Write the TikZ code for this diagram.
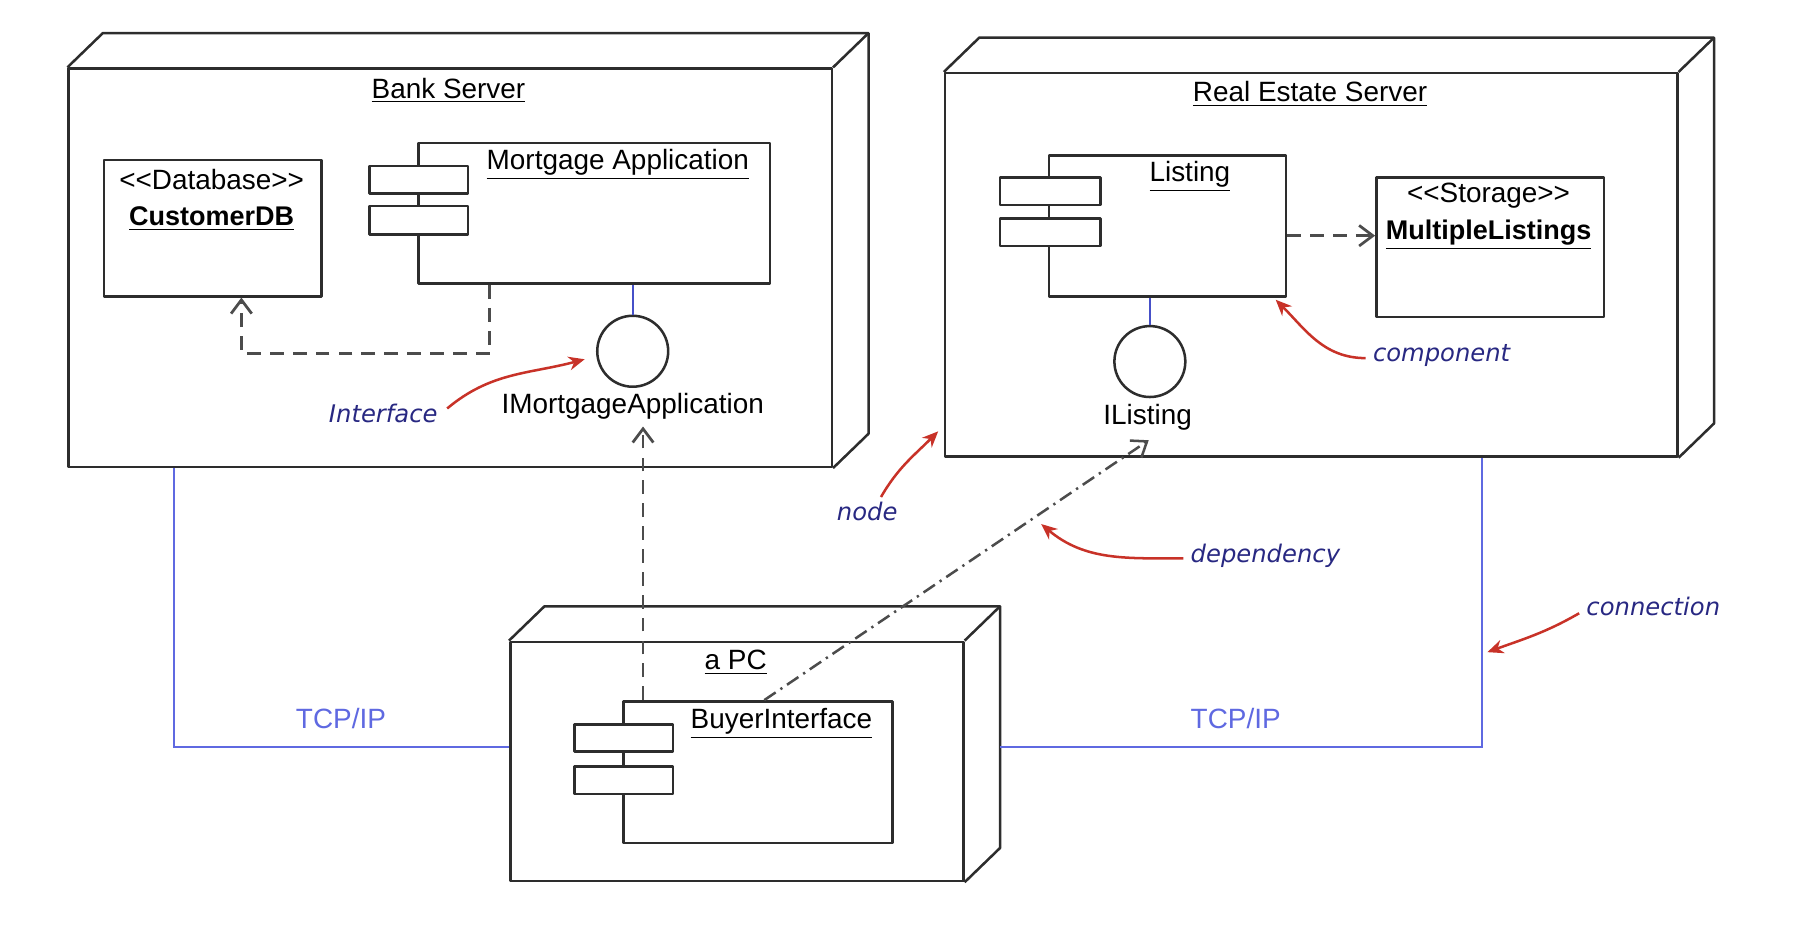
\documentclass[tikz,border=0pt]{standalone}
\usepackage{fontspec}
\setmainfont{Liberation Sans}
\newfontfamily\annotfont{DejaVu Sans}
\usetikzlibrary{arrows.meta}
\definecolor{navy}{RGB}{40,40,130}
\definecolor{annred}{RGB}{200,50,40}
\definecolor{connblue}{RGB}{95,105,225}
\definecolor{stubblue}{RGB}{70,80,200}
\definecolor{linegray}{RGB}{45,45,45}
\newcommand{\cubeback}[1]{%
  \draw[outline] (#1.north west) -- ++(31,-30) -- ([shift={(31,-30)}]#1.north east) -- ([shift={(31,-30)}]#1.south east) -- (#1.south east);
  \draw[outline] (#1.north east) -- ++(31,-30);}
\begin{document}
\begin{tikzpicture}[x=0.5pt,y=-0.5pt,
  outline/.style={draw=linegray,line width=1.1pt,line join=round},
  box/.style={outline,fill=white,inner sep=0pt},
  lbl/.style={font=\fontsize{12.2}{14}\selectfont,inner sep=0pt},
  boldlbl/.style={font=\fontsize{11.8}{14}\selectfont\bfseries,inner sep=0pt},
  ann/.style={font=\annotfont\itshape\fontsize{10.6}{13}\selectfont,text=navy,inner sep=0pt},
  annarrow/.style={draw=annred,line width=1.1pt,-{Stealth[length=7pt,width=6pt]}},
  dep/.style={draw=black!70,line width=1.2pt,dash pattern=on 6pt off 4pt,-{Straight Barb[length=6pt,width=9pt]}},
  depdot/.style={draw=black!70,line width=1.1pt,dash pattern=on 6pt off 2.5pt on 1pt off 2.5pt,-{Straight Barb[length=6pt,width=9pt]}},
  conn/.style={draw=connblue,line width=1pt},
  stub/.style={draw=stubblue,line width=1pt},
]
\useasboundingbox (0,0) rectangle (1568,830);

% ---------- Bank Server ----------
\node[box,minimum width=333.5pt,minimum height=174pt] (bank) at (393.5,234) {};
\cubeback{bank}
\node[lbl] (bankt) at (392,79) {\underline{Bank Server}};

\node[box,minimum width=95pt,minimum height=59.5pt] (cdb) at (186,199.5) {};
\node[lbl] (cdbst) at (185,157) {<\kern0pt<Database>\kern0pt>};
\node[boldlbl] (cdbn) at (185,191) {\underline{CustomerDB}};

\node[box,minimum width=153.5pt,minimum height=61.5pt] (mort) at (519.5,186.5) {};
\node[box,minimum width=43pt,minimum height=12pt] (mortp1) at (366,157) {};
\node[box,minimum width=43pt,minimum height=12.5pt] (mortp2) at (366,192.5) {};
\node[lbl] (mortt) at (540,144) {\underline{Mortgage Application}};

\node[box,circle,minimum size=31pt] (imc) at (553,307) {};
\draw[stub] (imc.north) -- (imc.north |- mort.south);
\node[lbl] (imlab) at (553,355) {IMortgageApplication};

\draw[dep] (428,0 |- mort.south) -- (428,309) -- (211,309) -- (211,0 |- cdb.south);

\node[ann] (annif) at (335,361) {Interface};
\draw[annarrow] (annif.east) ++(8,-4) to[out=40,in=195] (511,314);

% ---------- Real Estate Server ----------
\node[box,minimum width=320pt,minimum height=167.5pt] (res) at (1146,231.5) {};
\cubeback{res}
\node[lbl] (rest) at (1145,82) {\underline{Real Estate Server}};

\node[box,minimum width=103.5pt,minimum height=61.5pt] (lst) at (1020.5,197.5) {};
\node[box,minimum width=44pt,minimum height=12pt] (lstp1) at (918,167) {};
\node[box,minimum width=44pt,minimum height=12pt] (lstp2) at (918,203) {};
\node[lbl] (lstt) at (1040,154) {\underline{Listing}};

\node[box,minimum width=99.5pt,minimum height=61pt] (mls) at (1302.5,216) {};
\node[lbl] (mlsst) at (1301,171) {<\kern0pt<Storage>\kern0pt>};
\node[boldlbl] (mlsn) at (1301,205) {\underline{MultipleListings}};

\draw[dep] (lst.east |- 0,206) -- (mls.west |- 0,206);

\node[box,circle,minimum size=31pt] (ilc) at (1005,316) {};
\draw[stub] (ilc.north) -- (ilc.north |- lst.south);
\node[lbl] (illab) at (1003,365) {IListing};

\node[ann] (anncomp) at (1260,311) {component};
\draw[annarrow] (anncomp.west) ++(-6,2) to[out=180,in=-45] (1115,262);

% ---------- a PC ----------
\node[box,minimum width=198pt,minimum height=104.5pt] (pc) at (644,665.5) {};
\cubeback{pc}
\coordinate (pcback) at ([shift={(31,-30)}]pc.south east);
\node[lbl] (pct) at (643,579) {\underline{a PC}};

\node[box,minimum width=117.5pt,minimum height=62pt] (buy) at (662.5,675) {};
\node[box,minimum width=43pt,minimum height=12pt] (buyp1) at (545,645) {};
\node[box,minimum width=43pt,minimum height=12pt] (buyp2) at (545,682) {};
\node[lbl] (buyt) at (683,632) {\underline{BuyerInterface}};

% dependencies from BuyerInterface
\draw[dep] (562,0 |- buy.north) -- ([yshift=-3pt]562,0 |- imlab.south);
\coordinate (iltip) at ([xshift=0.5pt,yshift=-4pt]illab.south);
\draw[depdot] (668,0 |- buy.north) -- (iltip);

% ---------- connections ----------
\draw[conn] (152,0 |- bank.south) -- (152,653) -- (pc.west |- 0,653);
\node[lbl,text=connblue] (tcp1) at (298,628) {TCP/IP};
\draw[conn] (pcback |- 0,653) -- (1295,653) -- (1295,0 |- res.south);
\node[lbl,text=connblue] (tcp2) at (1080,628) {TCP/IP};

% ---------- annotations ----------
\node[ann] (annnode) at (758,447) {node};
\draw[annarrow] (annnode.north) ++(12,-4) to[out=60,in=225] (820,377);

\node[ann] (anndep) at (1106,486) {dependency};
\draw[annarrow] (anndep.west) ++(-6,2) to[out=180,in=-40] (910,458);

\node[ann] (anncon) at (1445,530) {connection};
\draw[annarrow] (anncon.west) ++(-6,6) to[out=210,in=20] (1300,570);
\end{tikzpicture}
\end{document}
